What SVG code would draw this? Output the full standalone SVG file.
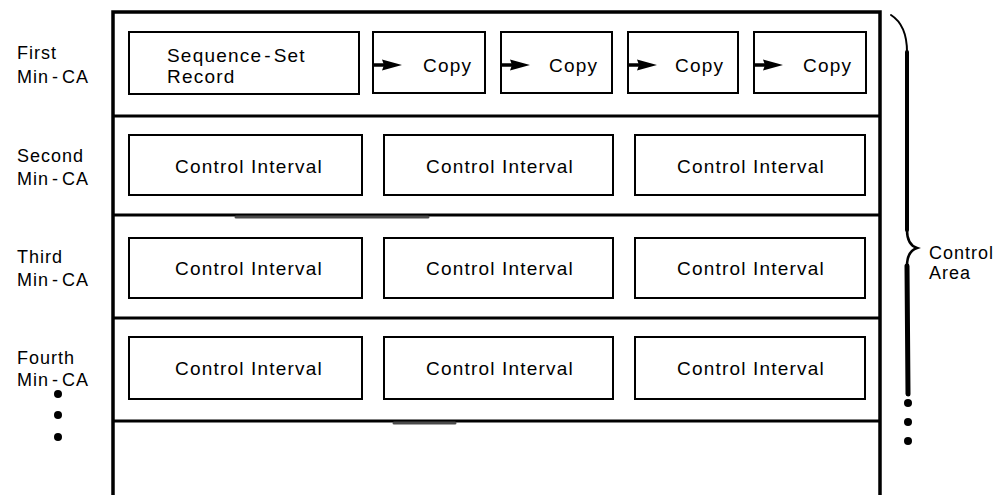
<svg xmlns="http://www.w3.org/2000/svg" width="1002" height="495" viewBox="0 0 1002 495">
  <style>
    .frame { fill: none; stroke: #000; stroke-width: 3.5; }
    .sep { stroke: #000; stroke-width: 3; }
    .smudge { stroke: #4a4a4a; stroke-width: 3; stroke-linecap: round; }
    .box { fill: #fff; stroke: #000; stroke-width: 2; }
    .lbl { font-family: "Liberation Sans", Arial, sans-serif; font-size: 18px; letter-spacing: 1px; fill: #000; }
    .txt { font-family: "Liberation Sans", Arial, sans-serif; font-size: 19px; letter-spacing: 1.2px; fill: #000; }
    .mid { text-anchor: middle; }
    .dot { fill: #000; }
    .brace { fill: none; stroke: #000; stroke-linecap: round; }
  </style>
  <defs>
    <!-- inbound pointer drawn at the left edge of every copy box -->
    <g id="ptr">
      <line x1="0" y1="0" x2="13" y2="0" stroke="#000" stroke-width="3.5"/>
      <polygon points="9,-5.5 29,0 9,5.5 11,0" fill="#000"/>
    </g>
  </defs>

  <rect width="1002" height="495" fill="#fff"/>

  <!-- control area frame, open at the bottom -->
  <g id="frame">
    <polyline class="frame" points="113,495 113,12 880,12 880,495"/>
    <line class="sep" x1="113" y1="116" x2="880" y2="116"/>
    <line class="sep" x1="113" y1="215" x2="880" y2="215"/>
    <line class="sep" x1="113" y1="318" x2="880" y2="318"/>
    <line class="sep" x1="113" y1="421" x2="880" y2="421"/>
    <line class="smudge" x1="236" y1="217" x2="428" y2="217"/>
    <line class="smudge" x1="394" y1="423" x2="455" y2="423"/>
  </g>

  <!-- row labels -->
  <g id="labels">
    <text class="lbl" x="17" y="59">First</text>
    <text class="lbl" x="17" y="83">Min<tspan dx="3">-</tspan><tspan dx="3">CA</tspan></text>
    <text class="lbl" x="17" y="162">Second</text>
    <text class="lbl" x="17" y="185">Min<tspan dx="3">-</tspan><tspan dx="3">CA</tspan></text>
    <text class="lbl" x="17" y="263">Third</text>
    <text class="lbl" x="17" y="286">Min<tspan dx="3">-</tspan><tspan dx="3">CA</tspan></text>
    <text class="lbl" x="17" y="364">Fourth</text>
    <text class="lbl" x="17" y="386">Min<tspan dx="3">-</tspan><tspan dx="3">CA</tspan></text>
    <circle class="dot" cx="58" cy="394" r="4"/>
    <circle class="dot" cx="58" cy="415" r="4"/>
    <circle class="dot" cx="58" cy="437" r="4"/>
  </g>

  <!-- first min-CA: sequence-set record and its copies -->
  <g id="seqset">
    <rect class="box" x="129" y="32" width="230" height="62"/>
    <text class="txt" x="167" y="62">Sequence<tspan dx="2">-</tspan><tspan dx="2">Set</tspan></text>
    <text class="txt" x="167" y="83">Record</text>
  </g>
  <g id="copy1">
    <rect class="box" x="373" y="32" width="112" height="61"/>
    <use href="#ptr" x="373" y="65"/>
    <text class="txt" x="423" y="72">Copy</text>
  </g>
  <g id="copy2">
    <rect class="box" x="501" y="32" width="111" height="61"/>
    <use href="#ptr" x="501" y="65"/>
    <text class="txt" x="549" y="72">Copy</text>
  </g>
  <g id="copy3">
    <rect class="box" x="628" y="32" width="110" height="61"/>
    <use href="#ptr" x="628" y="65"/>
    <text class="txt" x="675" y="72">Copy</text>
  </g>
  <g id="copy4">
    <rect class="box" x="754" y="32" width="112" height="61"/>
    <use href="#ptr" x="754" y="65"/>
    <text class="txt" x="803" y="72">Copy</text>
  </g>

  <!-- second min-CA -->
  <g id="ci-2-1"><rect class="box" x="129" y="135" width="233" height="60"/><text class="txt mid" x="249" y="173">Control Interval</text></g>
  <g id="ci-2-2"><rect class="box" x="384" y="135" width="229" height="60"/><text class="txt mid" x="500" y="173">Control Interval</text></g>
  <g id="ci-2-3"><rect class="box" x="635" y="135" width="230" height="60"/><text class="txt mid" x="751" y="173">Control Interval</text></g>

  <!-- third min-CA -->
  <g id="ci-3-1"><rect class="box" x="129" y="238" width="233" height="60"/><text class="txt mid" x="249" y="275">Control Interval</text></g>
  <g id="ci-3-2"><rect class="box" x="384" y="238" width="229" height="60"/><text class="txt mid" x="500" y="275">Control Interval</text></g>
  <g id="ci-3-3"><rect class="box" x="635" y="238" width="230" height="60"/><text class="txt mid" x="751" y="275">Control Interval</text></g>

  <!-- fourth min-CA -->
  <g id="ci-4-1"><rect class="box" x="129" y="337" width="233" height="62"/><text class="txt mid" x="249" y="375">Control Interval</text></g>
  <g id="ci-4-2"><rect class="box" x="384" y="337" width="229" height="62"/><text class="txt mid" x="500" y="375">Control Interval</text></g>
  <g id="ci-4-3"><rect class="box" x="635" y="337" width="230" height="62"/><text class="txt mid" x="751" y="375">Control Interval</text></g>

  <!-- brace marking the whole control area -->
  <g id="control-area">
    <path class="brace" stroke-width="2" d="M891,15 C902,22 907,34 907,52"/>
    <path class="brace" stroke-width="4" d="M907,52 L907,230"/>
    <path class="brace" stroke-width="2.5" d="M907,230 C907,240 911,246 917,248 C911,250 907,256 907,266"/>
    <path class="brace" stroke-width="5" d="M907,266 L908,394"/>
    <circle class="dot" cx="908" cy="403" r="4"/>
    <circle class="dot" cx="908" cy="422" r="4"/>
    <circle class="dot" cx="908" cy="441" r="4"/>
    <text class="lbl" x="929" y="259">Control</text>
    <text class="lbl" x="929" y="279">Area</text>
  </g>
</svg>
